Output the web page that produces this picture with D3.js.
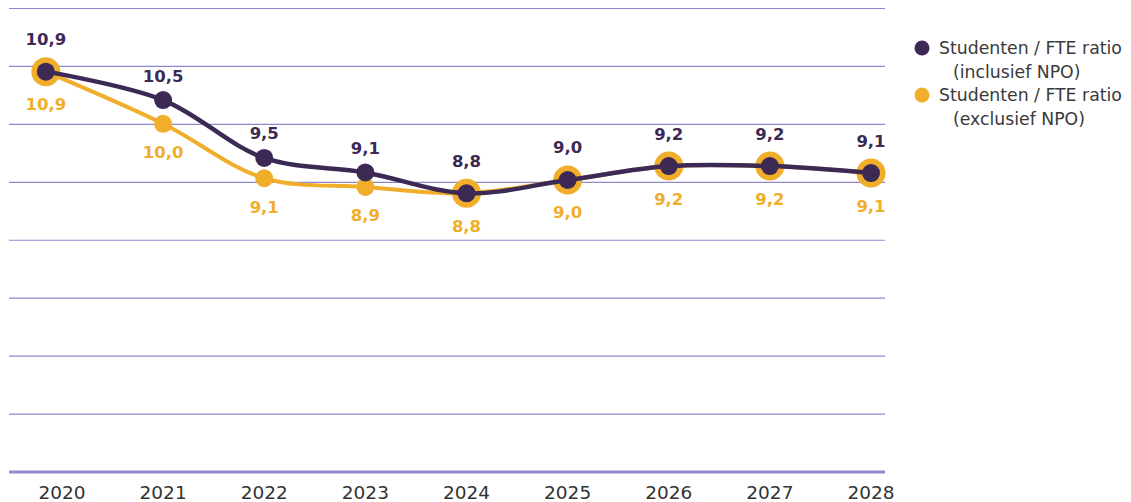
<!DOCTYPE html>
<html>
<head>
<meta charset="utf-8">
<script src="https://cdn.jsdelivr.net/npm/d3@7"></script>
<style>
	body { margin: 0; background: #fff; }
	#chart { width: 1131px; height: 502px; }
</style>
</head>
<body>
<div id="chart"></div>
<script>
// tick labels on the x axis
const years = [2020, 2021, 2022, 2023, 2024, 2025, 2026, 2027, 2028];
// where each point sits on the year axis (first point is drawn left of its tick in the original)
const pointYears = [2019.84, 2021, 2022, 2023, 2024, 2025, 2026, 2027, 2028];

// values
const inclValues = [10.91, 10.42, 9.42, 9.17, 8.81, 9.04, 9.28, 9.28, 9.16];
const exclValues = [10.91, 10.01, 9.07, 8.92, 8.81, 9.04, 9.28, 9.28, 9.16];

// printed data labels
const inclLabels = [10.9, 10.5, 9.5, 9.1, 8.8, 9.0, 9.2, 9.2, 9.1];
const exclLabels = [10.9, 10.0, 9.1, 8.9, 8.8, 9.0, 9.2, 9.2, 9.1];

const seriesNames = ['Studenten / FTE ratio|(inclusief NPO)', 'Studenten / FTE ratio|(exclusief NPO)'];
const yTicks = [4, 5, 6, 7, 8, 9, 10, 11, 12];

function createRatioChart(chartId) {
	const W = 1131;
	const H = 502;
	const purple = '#3c2a55';
	const orange = '#f0ae2b';
	const gridColor = '#8f89cc';
	const font = "'DejaVu Sans', sans-serif";

	const svg = d3.select(`#${chartId}`).append('svg').attr('width', W).attr('height', H);

	const x = d3.scaleLinear().domain([2020, 2028]).range([62, 871]);
	const y = d3.scaleLinear().domain([4, 12]).range([472, 8.5]);

	// gridlines
	svg
		.append('g')
		.selectAll('line')
		.data(yTicks)
		.enter()
		.append('line')
		.attr('x1', 9)
		.attr('x2', 885)
		.attr('y1', (d) => y(d))
		.attr('y2', (d) => y(d))
		.attr('stroke', gridColor)
		.attr('stroke-width', (d) => (d === 4 ? 3 : 1.2));

	// x labels
	svg
		.append('g')
		.selectAll('text')
		.data(years)
		.enter()
		.append('text')
		.attr('x', (d) => x(d))
		.attr('y', 492)
		.attr('text-anchor', 'middle')
		.attr('dominant-baseline', 'central')
		.attr('font-family', font)
		.attr('font-size', '18.5px')
		.attr('fill', '#333')
		.text((d) => d);

	const fmt = (v) => d3.format('.1f')(v).replace('.', ',');

	const incl = pointYears.map((yr, i) => ({ year: yr, value: inclValues[i], label: inclLabels[i] }));
	const excl = pointYears.map((yr, i) => ({
		year: yr,
		value: exclValues[i],
		label: exclLabels[i],
		// the orange marker is drawn larger where it sits under the purple one
		big: Math.abs(exclValues[i] - inclValues[i]) < 0.001,
	}));

	const line = d3
		.line()
		.x((d) => x(d.year))
		.y((d) => y(d.value))
		.curve(d3.curveCatmullRom);

	// exclusief NPO (below)
	svg
		.append('path')
		.datum(excl)
		.attr('fill', 'none')
		.attr('stroke', orange)
		.attr('stroke-width', 4)
		.attr('d', line);

	svg
		.append('g')
		.selectAll('circle')
		.data(excl)
		.enter()
		.append('circle')
		.attr('cx', (d) => x(d.year))
		.attr('cy', (d) => y(d.value))
		.attr('r', (d) => (d.big ? 14.5 : 9))
		.attr('fill', orange);

	// inclusief NPO (on top)
	svg
		.append('path')
		.datum(incl)
		.attr('fill', 'none')
		.attr('stroke', purple)
		.attr('stroke-width', 4.5)
		.attr('d', line);

	svg
		.append('g')
		.selectAll('circle')
		.data(incl)
		.enter()
		.append('circle')
		.attr('cx', (d) => x(d.year))
		.attr('cy', (d) => y(d.value))
		.attr('r', 9)
		.attr('fill', purple);

	// data labels
	svg
		.append('g')
		.selectAll('text')
		.data(incl)
		.enter()
		.append('text')
		.attr('x', (d) => x(d.year))
		.attr('y', (d, i) => y(d.value) - (excl[i].big ? 32 : 24))
		.attr('text-anchor', 'middle')
		.attr('dominant-baseline', 'central')
		.attr('font-family', font)
		.attr('font-weight', 'bold')
		.attr('font-size', '16.5px')
		.attr('fill', purple)
		.text((d) => fmt(d.label));

	svg
		.append('g')
		.selectAll('text')
		.data(excl)
		.enter()
		.append('text')
		.attr('x', (d) => x(d.year))
		.attr('y', (d) => y(d.value) + (d.big ? 33 : 29))
		.attr('text-anchor', 'middle')
		.attr('dominant-baseline', 'central')
		.attr('font-family', font)
		.attr('font-weight', 'bold')
		.attr('font-size', '16.5px')
		.attr('fill', orange)
		.text((d) => fmt(d.label));

	// legend
	const legend = svg.append('g').attr('transform', 'translate(922,48)');
	const items = legend
		.selectAll('g')
		.data(seriesNames)
		.enter()
		.append('g')
		.attr('transform', (d, i) => `translate(0,${i * 47})`);

	items
		.append('circle')
		.attr('r', 7.5)
		.attr('fill', (d, i) => (i === 0 ? purple : orange));

	items.each(function (d) {
		const parts = d.split('|');
		const g = d3.select(this);
		parts.forEach((p, j) => {
			g.append('text')
				.attr('x', j === 0 ? 17 : 31)
				.attr('y', j * 24)
				.attr('dominant-baseline', 'central')
				.attr('font-family', font)
				.attr('font-size', '17.3px')
				.attr('fill', '#3a3a3a')
				.text(p);
		});
	});
}

createRatioChart('chart');
</script>
</body>
</html>
